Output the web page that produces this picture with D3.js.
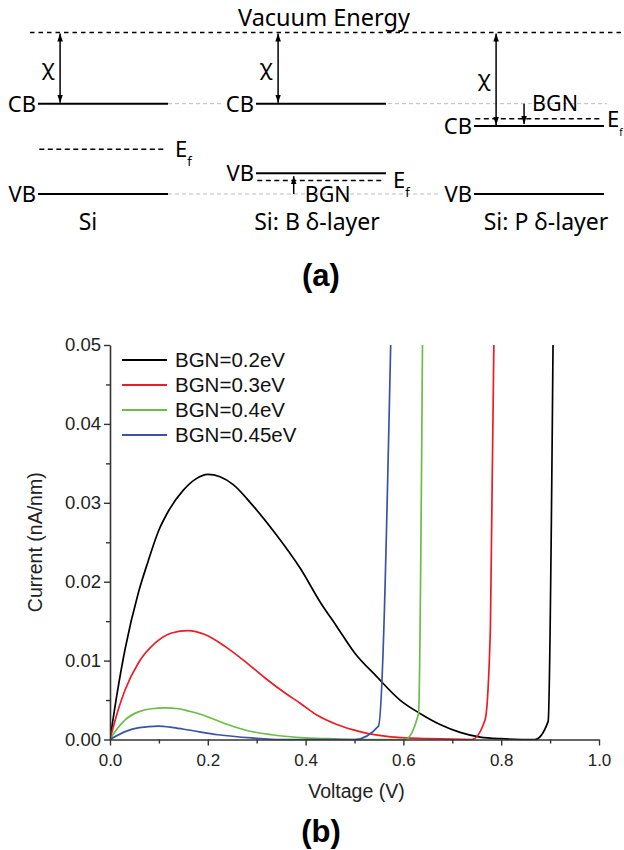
<!DOCTYPE html>
<html>
<head>
<meta charset="utf-8">
<script src="https://cdn.jsdelivr.net/npm/d3@7"></script>
<style>
  body { margin: 0; background: #fff; }
  svg { display: block; }
</style>
</head>
<body>
<svg id="fig" width="624" height="850"></svg>
<script>
// ---------- panel (a): band diagram levels (schematic energy units, vacuum = 0) ----------
var columns = ["Si", "Si: B \u03b4-layer", "Si: P \u03b4-layer"];
var cbLevel = [-0.89, -0.89, -1.17];
var vbLevel = [-2.02, -1.76, -2.02];
var efLevel = [-1.46, -1.85, -1.08];
var vacuumLevel = 0;
var bgnFrom = [null, -2.02, -0.89];   // BGN arrow start (undoped band)
var bgnTo = [null, -1.76, -1.17];     // BGN arrow end (shifted band)

// ---------- panel (b): I-V curves ----------
var seriesNames = ["BGN=0.2eV", "BGN=0.3eV", "BGN=0.4eV", "BGN=0.45eV"];

var bgn020 = [[0, 0], [0.015, 0.006], [0.031, 0.0115], [0.058, 0.0186], [0.078, 0.0226], [0.099, 0.0264],
  [0.119, 0.0289], [0.15, 0.0316], [0.175, 0.033], [0.2, 0.0336], [0.225, 0.0333], [0.252, 0.0323],
  [0.29, 0.0298], [0.337, 0.0262], [0.39, 0.0216], [0.43, 0.0174], [0.464, 0.0143], [0.5, 0.011],
  [0.545, 0.008], [0.593, 0.005], [0.634, 0.0033], [0.675, 0.0019], [0.716, 0.0009], [0.757, 0.0003],
  [0.8, 0.0001], [0.869, 0], [0.896, 0.0023], [0.906, 0.05]];

var bgn030 = [[0, 0], [0.017, 0.0038], [0.031, 0.0063], [0.058, 0.0097], [0.092, 0.0122], [0.126, 0.0135],
  [0.16, 0.0138], [0.194, 0.0133], [0.235, 0.0118], [0.276, 0.0099], [0.317, 0.0078], [0.358, 0.0059],
  [0.389, 0.0046], [0.423, 0.0031], [0.464, 0.0019], [0.511, 0.001], [0.566, 0.0004], [0.607, 0.0002],
  [0.65, 0.0001], [0.74, 0], [0.767, 0.0025], [0.778, 0.0143], [0.785, 0.05]];

var bgn040 = [[0, 0], [0.015, 0.0014], [0.031, 0.0025], [0.058, 0.0035], [0.085, 0.0039], [0.112, 0.004],
  [0.14, 0.0039], [0.161, 0.0036], [0.19, 0.0031], [0.215, 0.0025], [0.245, 0.0018], [0.276, 0.0012],
  [0.331, 0.0006], [0.399, 0.0002], [0.45, 0.0001], [0.5, 0], [0.603, 0], [0.631, 0.0033], [0.639, 0.05]];

var bgn045 = [[0, 0], [0.031, 0.001], [0.06, 0.0015], [0.099, 0.0017], [0.13, 0.0015], [0.161, 0.0012],
  [0.221, 0.0006], [0.29, 0.0002], [0.35, 0], [0.501, 0], [0.549, 0.0017], [0.574, 0.05]];

var xMajor = [0, 0.2, 0.4, 0.6, 0.8, 1.0];
var xMinor = [0.1, 0.3, 0.5, 0.7, 0.9];
var yMajor = [0, 0.01, 0.02, 0.03, 0.04, 0.05];
var yMinor = [0.005, 0.015, 0.025, 0.035, 0.045];

var colors = ["#000000", "#ed1c24", "#6abd45", "#3a53a4"];

var svg = d3.select("#fig");

// ================= panel (a) =================
var sansA = "'Noto Sans', 'Open Sans', sans-serif";
var ga = svg.append("g").attr("font-family", sansA).attr("fill", "#000");

var yE = d3.scaleLinear().domain([0, -2.02]).range([32.5, 194]);
var colX = d3.scaleLinear().domain([0, 2]).range([38, 474]);
var colLabelX = d3.scaleLinear().domain([0, 2]).range([88, 546]);
var lineW = 130;
function ux(i, u) { return colX(i) + u * lineW; }

var defs = svg.append("defs");
defs.append("marker")
  .attr("id", "head")
  .attr("viewBox", "0 0 10 10")
  .attr("refX", 10).attr("refY", 5)
  .attr("markerUnits", "userSpaceOnUse")
  .attr("markerWidth", 8).attr("markerHeight", 8)
  .attr("orient", "auto-start-reverse")
  .append("path").attr("d", "M0,1.5 L10,5 L0,8.5 z").attr("fill", "#000");

// gray guide lines (undoped levels)
ga.append("line").attr("x1", ux(0, 1)).attr("x2", colX(1) - 33)
  .attr("y1", yE(cbLevel[0])).attr("y2", yE(cbLevel[0]))
  .attr("stroke", "#bdbdbd").attr("stroke-width", 1).attr("stroke-dasharray", "4,3");
ga.append("line").attr("x1", ux(1, 1) + 2).attr("x2", ux(2, 1) + 3)
  .attr("y1", yE(cbLevel[0])).attr("y2", yE(cbLevel[0]))
  .attr("stroke", "#bdbdbd").attr("stroke-width", 1).attr("stroke-dasharray", "4,3");
ga.append("line").attr("x1", ux(0, 1)).attr("x2", colX(2) - 34)
  .attr("y1", yE(vbLevel[0])).attr("y2", yE(vbLevel[0]))
  .attr("stroke", "#bdbdbd").attr("stroke-width", 1).attr("stroke-dasharray", "4,3");

// vacuum level
ga.append("line").attr("x1", 30).attr("x2", 624)
  .attr("y1", yE(vacuumLevel)).attr("y2", yE(vacuumLevel))
  .attr("stroke", "#000").attr("stroke-width", 1.3).attr("stroke-dasharray", "4.5,4");
ga.append("text").attr("x", 324).attr("y", yE(vacuumLevel) - 7)
  .attr("text-anchor", "middle").attr("font-size", 23.5).text("Vacuum Energy");

columns.forEach(function (name, i) {
  // CB and VB
  [[cbLevel[i], "CB"], [vbLevel[i], "VB"]].forEach(function (b) {
    ga.append("line").attr("x1", ux(i, 0)).attr("x2", ux(i, 1))
      .attr("y1", yE(b[0])).attr("y2", yE(b[0]))
      .attr("stroke", "#000").attr("stroke-width", 2);
    ga.append("text").attr("x", ux(i, 0) - 2).attr("y", yE(b[0]))
      .attr("dy", "0.36em").attr("text-anchor", "end").attr("font-size", 22).text(b[1]);
  });
  // Fermi level
  ga.append("line").attr("x1", ux(i, 0.01)).attr("x2", ux(i, 0.99))
    .attr("y1", yE(efLevel[i])).attr("y2", yE(efLevel[i]))
    .attr("stroke", "#000").attr("stroke-width", 1.5).attr("stroke-dasharray", "5,3.5");
  var ef = ga.append("text").attr("x", ux(i, 1) + (i === 2 ? 3 : 7)).attr("y", yE(efLevel[i]))
    .attr("dy", "0.36em").attr("font-size", 22);
  ef.append("tspan").text("E");
  ef.append("tspan").attr("font-size", i === 2 ? 10 : 13).attr("dy", 9).text("f");

  // electron affinity arrow
  var cx = ux(i, 0.17);
  ga.append("line").attr("x1", cx).attr("x2", cx)
    .attr("y1", yE(vacuumLevel) + 1).attr("y2", yE(cbLevel[i]) - 1)
    .attr("stroke", "#000").attr("stroke-width", 1.5)
    .attr("marker-start", "url(#head)").attr("marker-end", "url(#head)");
  ga.append("text").attr("x", cx - 12).attr("y", (yE(vacuumLevel) + yE(cbLevel[i])) / 2)
    .attr("dy", "0.3em").attr("text-anchor", "middle").attr("font-size", 22).text("\u03c7");

  // BGN arrow
  if (bgnFrom[i] !== null) {
    var bx = ux(i, i === 1 ? 0.29 : 0.385);
    ga.append("line").attr("x1", bx).attr("x2", bx)
      .attr("y1", yE(bgnFrom[i])).attr("y2", yE(bgnTo[i]) + (bgnTo[i] > bgnFrom[i] ? 3 : -2))
      .attr("stroke", "#000").attr("stroke-width", 1.5)
      .attr("marker-end", "url(#head)");
    ga.append("text").attr("x", bx + (i === 1 ? 11 : 8)).attr("y", yE(bgnFrom[i]))
      .attr("dy", "0.36em").attr("font-size", 21.5).text("BGN");
  }

  ga.append("text").attr("x", colLabelX(i)).attr("y", 230)
    .attr("text-anchor", "middle").attr("font-size", 23).text(name);
});

svg.append("text").attr("x", 321).attr("y", 286)
  .attr("text-anchor", "middle").attr("font-family", "'Liberation Sans', Arial, sans-serif")
  .attr("font-weight", "bold").attr("font-size", 31).text("(a)");

// ================= panel (b) =================
var sansB = "'Liberation Sans', Arial, sans-serif";
var gb = svg.append("g").attr("font-family", sansB);

var x = d3.scaleLinear().domain([0, 1]).range([110, 599]);
var y = d3.scaleLinear().domain([0, 0.05]).range([739.5, 345]);

gb.append("clipPath").attr("id", "plotclip")
  .append("rect").attr("x", x(0)).attr("y", y(0.05)).attr("width", x(1) - x(0)).attr("height", y(0) - y(0.05) + 1);

var line = d3.line()
  .curve(d3.curveMonotoneX)
  .x(function (d) { return x(d[0]); })
  .y(function (d) { return y(d[1]); });
var allSeries = [bgn020, bgn030, bgn040, bgn045];

gb.append("g").attr("clip-path", "url(#plotclip)")
  .selectAll("path").data(allSeries).enter().append("path")
  .attr("d", line)
  .attr("fill", "none")
  .attr("stroke", function (d, i) { return colors[i]; })
  .attr("stroke-width", 1.7)
  .attr("stroke-linejoin", "round");

// axes
gb.append("g").attr("transform", "translate(0," + y(0) + ")")
  .call(d3.axisBottom(x).tickValues(xMajor).tickSize(6).tickSizeOuter(0).tickPadding(8)
    .tickFormat(d3.format(".1f")));
gb.append("g").attr("transform", "translate(0," + y(0) + ")")
  .call(d3.axisBottom(x).tickValues(xMinor).tickSize(4).tickFormat(""))
  .select(".domain").remove();

var yAxis = gb.append("g").attr("transform", "translate(" + x(0) + ",0)")
  .call(d3.axisLeft(y).tickValues(yMajor).tickSize(6).tickSizeOuter(0).tickPadding(3)
    .tickFormat(d3.format(".2f")));
gb.append("g").attr("transform", "translate(" + x(0) + ",0)")
  .call(d3.axisLeft(y).tickValues(yMinor).tickSize(4).tickFormat(""))
  .select(".domain").remove();

gb.selectAll(".domain").attr("stroke", "#333").attr("stroke-width", 1.6);
gb.selectAll(".tick line").attr("stroke", "#333").attr("stroke-width", 1.4);
gb.selectAll(".tick text").attr("font-family", sansB).attr("font-size", 17).attr("fill", "#222");
yAxis.selectAll(".tick text").attr("font-size", 18.5);

gb.append("text").attr("x", (x(0) + x(1)) / 2 + 2).attr("y", 798)
  .attr("text-anchor", "middle").attr("font-size", 19.5).attr("fill", "#222").text("Voltage (V)");
gb.append("text").attr("transform", "translate(42," + (y(0) + y(0.05)) / 2 + ") rotate(-90)")
  .attr("text-anchor", "middle").attr("font-size", 19.5).attr("fill", "#222").text("Current (nA/nm)");

// legend
var legend = gb.append("g").selectAll("g").data(seriesNames).enter().append("g")
  .attr("transform", function (d, i) { return "translate(122," + (360 + i * 25) + ")"; });
legend.append("line").attr("x1", 0).attr("x2", 45).attr("y1", 0).attr("y2", 0)
  .attr("stroke", function (d, i) { return colors[i]; }).attr("stroke-width", 2);
legend.append("text").attr("x", 53).attr("y", 0).attr("dy", "0.36em")
  .attr("font-size", 20.5).attr("fill", "#111").text(function (d) { return d; });

svg.append("text").attr("x", 321).attr("y", 842)
  .attr("text-anchor", "middle").attr("font-family", sansB)
  .attr("font-weight", "bold").attr("font-size", 31).text("(b)");
</script>
</body>
</html>
